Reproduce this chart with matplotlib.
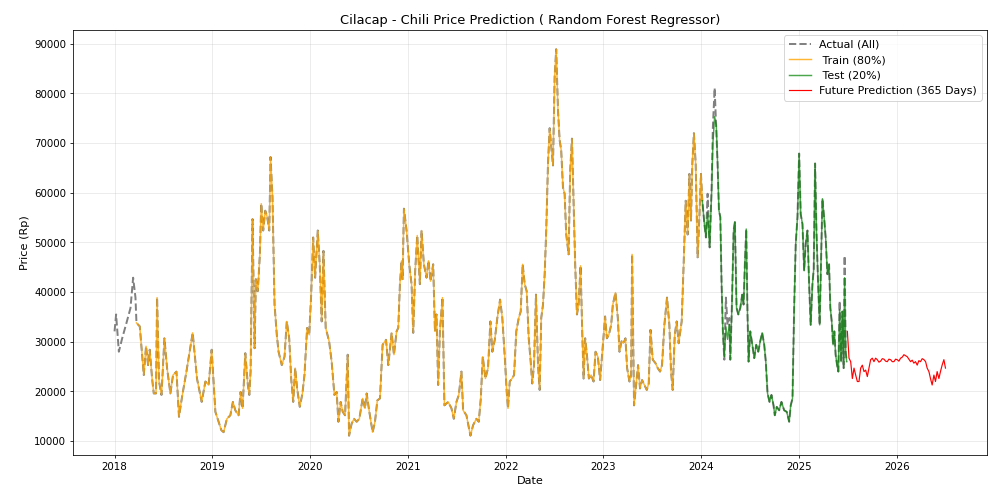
import numpy as np
import pandas as pd
from matplotlib import pyplot as plt

# Harga aktual cabai (Rp); waktu dalam tahun desimal
actual_year = [
    2018.000, 2018.016, 2018.044, 2018.078, 2018.122, 2018.163, 2018.190, 2018.214, 2018.224, 2018.258,
    2018.299, 2018.322, 2018.343, 2018.360, 2018.384, 2018.401, 2018.424, 2018.435, 2018.455, 2018.480,
    2018.510, 2018.537, 2018.571, 2018.598, 2018.633, 2018.659, 2018.690, 2018.735, 2018.768, 2018.799,
    2018.843, 2018.891, 2018.929, 2018.962, 2018.993, 2019.031, 2019.092, 2019.115, 2019.149, 2019.184,
    2019.210, 2019.235, 2019.268, 2019.289, 2019.309, 2019.337, 2019.363, 2019.378, 2019.391, 2019.411,
    2019.432, 2019.445, 2019.465, 2019.486, 2019.500, 2019.520, 2019.541, 2019.561, 2019.582, 2019.595,
    2019.615, 2019.636, 2019.659, 2019.677, 2019.710, 2019.738, 2019.761, 2019.786, 2019.806, 2019.827,
    2019.847, 2019.867, 2019.894, 2019.921, 2019.942, 2019.969, 2019.990, 2020.010, 2020.031, 2020.051,
    2020.078, 2020.098, 2020.118, 2020.136, 2020.159, 2020.194, 2020.220, 2020.248, 2020.271, 2020.289,
    2020.312, 2020.333, 2020.357, 2020.384, 2020.398, 2020.424, 2020.449, 2020.476, 2020.503, 2020.537,
    2020.561, 2020.578, 2020.605, 2020.639, 2020.663, 2020.687, 2020.714, 2020.741, 2020.776, 2020.799,
    2020.833, 2020.857, 2020.884, 2020.901, 2020.918, 2020.935, 2020.945, 2020.959, 2020.986, 2021.013,
    2021.037, 2021.054, 2021.074, 2021.095, 2021.122, 2021.139, 2021.163, 2021.190, 2021.210, 2021.231,
    2021.258, 2021.276, 2021.292, 2021.309, 2021.327, 2021.353, 2021.373, 2021.411, 2021.445, 2021.469,
    2021.496, 2021.520, 2021.547, 2021.564, 2021.598, 2021.639, 2021.666, 2021.700, 2021.724, 2021.745,
    2021.765, 2021.792, 2021.819, 2021.843, 2021.863, 2021.888, 2021.914, 2021.942, 2021.965, 2021.990,
    2022.010, 2022.023, 2022.041, 2022.064, 2022.085, 2022.108, 2022.133, 2022.153, 2022.173, 2022.194,
    2022.214, 2022.235, 2022.255, 2022.271, 2022.289, 2022.309, 2022.330, 2022.347, 2022.363, 2022.381,
    2022.398, 2022.414, 2022.432, 2022.449, 2022.465, 2022.483, 2022.500, 2022.516, 2022.534, 2022.551,
    2022.567, 2022.585, 2022.602, 2022.618, 2022.643, 2022.659, 2022.677, 2022.694, 2022.710, 2022.728,
    2022.745, 2022.765, 2022.782, 2022.796, 2022.812, 2022.830, 2022.850, 2022.873, 2022.898, 2022.918,
    2022.942, 2022.965, 2022.993, 2023.016, 2023.034, 2023.054, 2023.078, 2023.095, 2023.122, 2023.146,
    2023.163, 2023.184, 2023.204, 2023.224, 2023.241, 2023.265, 2023.282, 2023.292, 2023.312, 2023.333,
    2023.353, 2023.373, 2023.394, 2023.418, 2023.442, 2023.462, 2023.480, 2023.503, 2023.531, 2023.554,
    2023.578, 2023.598, 2023.622, 2023.649, 2023.673, 2023.690, 2023.707, 2023.728, 2023.748, 2023.768,
    2023.799, 2023.819, 2023.840, 2023.860, 2023.878, 2023.894, 2023.908, 2023.924, 2023.942, 2023.962,
    2023.980, 2023.996, 2024.010, 2024.031, 2024.047, 2024.064, 2024.085, 2024.105, 2024.118, 2024.136,
    2024.153, 2024.166, 2024.180, 2024.194, 2024.207, 2024.220, 2024.235, 2024.251, 2024.268, 2024.286,
    2024.296, 2024.312, 2024.330, 2024.343, 2024.360, 2024.378, 2024.398, 2024.418, 2024.432, 2024.445,
    2024.459, 2024.472, 2024.483, 2024.500, 2024.516, 2024.541, 2024.561, 2024.582, 2024.602, 2024.622,
    2024.643, 2024.659, 2024.677, 2024.697, 2024.717, 2024.738, 2024.751, 2024.771, 2024.796, 2024.819,
    2024.847, 2024.873, 2024.898, 2024.914, 2024.932, 2024.949, 2024.965, 2024.983, 2025.000, 2025.016,
    2025.034, 2025.051, 2025.067, 2025.085, 2025.102, 2025.118, 2025.136, 2025.149, 2025.163, 2025.177,
    2025.194, 2025.210, 2025.224, 2025.238, 2025.255, 2025.271, 2025.289, 2025.306, 2025.319, 2025.333,
    2025.347, 2025.360, 2025.373, 2025.388, 2025.401, 2025.414, 2025.429, 2025.442, 2025.455, 2025.465,
    2025.476, 2025.486,
]
actual_price = [
    32100, 35500, 28000, 30700, 33800, 36800, 42900, 38900, 33800, 33100,
    23300, 29100, 25300, 28400, 22600, 19600, 19600, 38900, 22000, 19300,
    30700, 24700, 19600, 23300, 24000, 14900, 18900, 24000, 28000, 31800,
    22600, 17900, 22000, 21300, 28400, 15900, 12200, 11800, 14500, 15200,
    17900, 16200, 15200, 19900, 16600, 27700, 21300, 19300, 24000, 54700,
    28700, 42600, 40200, 47600, 57800, 52400, 56400, 55100, 52400, 67200,
    59100, 37500, 31400, 28000, 25300, 27000, 34100, 30700, 22600, 17900,
    24700, 20600, 16900, 19600, 23300, 32800, 31400, 39200, 51000, 42900,
    52400, 45600, 34100, 48300, 32800, 30100, 26000, 19300, 19900, 13900,
    17900, 15900, 15200, 27400, 11100, 13500, 14500, 13900, 14500, 18600,
    16600, 19600, 15900, 11800, 13900, 18200, 18600, 29400, 30400, 25300,
    31800, 27400, 32100, 32800, 41600, 46300, 42600, 56800, 52400, 45600,
    41600, 31800, 44300, 51400, 41600, 52400, 45600, 42900, 46300, 42200,
    45600, 32100, 35500, 21300, 32100, 38900, 17200, 17900, 16600, 14500,
    17900, 19300, 24000, 16200, 15200, 11100, 13200, 14500, 13900, 18600,
    27000, 22600, 24700, 34100, 28000, 30400, 34800, 38500, 34800, 27000,
    19900, 16600, 22000, 22600, 23300, 32100, 34800, 36100, 45600, 41600,
    40200, 30700, 26000, 21600, 25300, 39500, 25300, 20300, 34800, 37500,
    43600, 52400, 65900, 73000, 69300, 65500, 83400, 88900, 76700, 70600,
    68600, 61100, 59800, 51700, 47600, 64500, 70900, 57800, 45600, 35500,
    37500, 45300, 32100, 22600, 30700, 27400, 22600, 23300, 22000, 28000,
    27000, 22300, 29400, 35100, 30700, 31400, 33400, 37500, 39900, 34800,
    28000, 30100, 29700, 30700, 24700, 22000, 23300, 47600, 17200, 21300,
    25300, 20600, 22300, 21300, 20300, 21600, 32400, 26400, 25700, 24700,
    24000, 25300, 33400, 38900, 33400, 24000, 20300, 31400, 34100, 29700,
    34100, 45600, 58400, 51600, 63800, 54400, 65900, 72000, 65900, 47000,
    55100, 63800, 58400, 53700, 51000, 59800, 49000, 61100, 73300, 81100,
    72600, 65900, 56400, 55100, 41600, 32100, 26400, 38900, 33400, 34800,
    26400, 36800, 52400, 54100, 36800, 35500, 36800, 39500, 37500, 45600,
    52700, 35500, 26000, 32100, 30100, 26700, 29400, 28000, 30100, 31800,
    29400, 26000, 19600, 17900, 19300, 17200, 15200, 16900, 16200, 17900,
    16200, 15900, 13900, 17200, 18600, 36800, 49700, 55100, 67900, 55700,
    53700, 44300, 49700, 52400, 41600, 33400, 41600, 44600, 65900, 52400,
    41600, 33400, 46300, 58800, 55100, 51000, 43600, 45600, 36800, 34100,
    29400, 32100, 27400, 25300, 24000, 38200, 26000, 36100, 24700, 47300,
    28000, 26000,
]

# Prediksi Random Forest pada data test (mulai 2024.010)
test_pred = [
    58400, 53700, 51000, 56000, 49000, 60000, 70000, 75300,
    73500, 65900, 56400, 55100, 41600, 32100, 27000, 33000, 30500, 33500,
    26400, 36800, 52400, 54100, 36800, 35500, 36800, 39500, 37500, 45600,
    52700, 35500, 26000, 32100, 30100, 26700, 29400, 28000, 30100, 31800,
    29400, 26000, 19600, 17900, 19300, 17200, 15200, 16900, 16200, 17900,
    16200, 15900, 13900, 17200, 18600, 36800, 49700, 55100, 67900, 55700,
    53700, 44300, 49700, 52400, 41600, 33400, 41600, 44600, 65900, 52400,
    41600, 33400, 46300, 58800, 55100, 51000, 43600, 45600, 36800, 34100,
    29400, 32100, 27400, 25300, 24000, 36500, 26000, 36100, 24700, 42900,
    28000, 26000,
]

# Prediksi 365 hari ke depan
future_year = [
    2025.493, 2025.510, 2025.527, 2025.544, 2025.561, 2025.578, 2025.595, 2025.612, 2025.629, 2025.646,
    2025.663, 2025.680, 2025.697, 2025.714, 2025.731, 2025.748, 2025.765, 2025.782, 2025.799, 2025.816,
    2025.833, 2025.850, 2025.867, 2025.884, 2025.901, 2025.918, 2025.935, 2025.952, 2025.969, 2025.986,
    2026.003, 2026.020, 2026.037, 2026.054, 2026.071, 2026.088, 2026.105, 2026.122, 2026.139, 2026.156,
    2026.173, 2026.190, 2026.207, 2026.224, 2026.241, 2026.258, 2026.276, 2026.293, 2026.309, 2026.327,
    2026.343, 2026.360, 2026.378, 2026.394, 2026.411, 2026.429, 2026.445, 2026.462, 2026.480, 2026.496,
]
future_price = [
    32100, 26700, 26000, 22600, 24700, 23300, 22000, 22000, 24700, 25300,
    24000, 24300, 23000, 24700, 26400, 26700, 26000, 26700, 26400, 25900,
    26100, 26600, 26500, 26100, 26000, 26500, 26400, 26000, 26000, 26500,
    26400, 26100, 26700, 26900, 27400, 27200, 27000, 26500, 26000, 26300,
    25700, 26000, 25300, 26200, 26000, 26600, 26400, 26000, 24700, 24000,
    22600, 21300, 23300, 22000, 24000, 22600, 24000, 25300, 26400, 24700,
]

train_start = 2018.224  # baris awal hilang karena fitur lag
split_year = 2024.010   # batas 80% / 20%


def to_dates(years):
    years = np.asarray(years, dtype=float)
    return pd.Timestamp('2018-01-01') + pd.to_timedelta((years - 2018) * 365.25, unit='D')


years = np.array(actual_year)
price = np.array(actual_price)
dates = to_dates(years)

train_mask = (years >= train_start) & (years <= split_year)
test_mask = years >= split_year

fig, ax = plt.subplots(figsize=(14, 6.945))
fig.subplots_adjust(left=73 / 988, right=987 / 988, top=1 - 30 / 490, bottom=1 - 455 / 490)

ax.plot(dates, price, color='gray', linestyle='--', linewidth=2, label='Actual (All)')
ax.plot(dates[train_mask], price[train_mask], color='orange', alpha=0.8, label=' Train (80%)')
ax.plot(dates[test_mask], test_pred, color='green', alpha=0.7, label=' Test (20%)')
ax.plot(to_dates(future_year), future_price, color='red', linewidth=1.2,
        label='Future Prediction (365 Days)')

ax.set_title('Cilacap - Chili Price Prediction ( Random Forest Regressor)', fontsize=13.3)
ax.set_xlabel('Date', fontsize=11.5)
ax.set_ylabel('Price (Rp)', fontsize=11.5)
ax.tick_params(labelsize=10.5)
ax.grid(True, alpha=0.3)
ax.legend(loc='upper right', fontsize=11.2)

fig.savefig('out.png', dpi=988 / 14)
